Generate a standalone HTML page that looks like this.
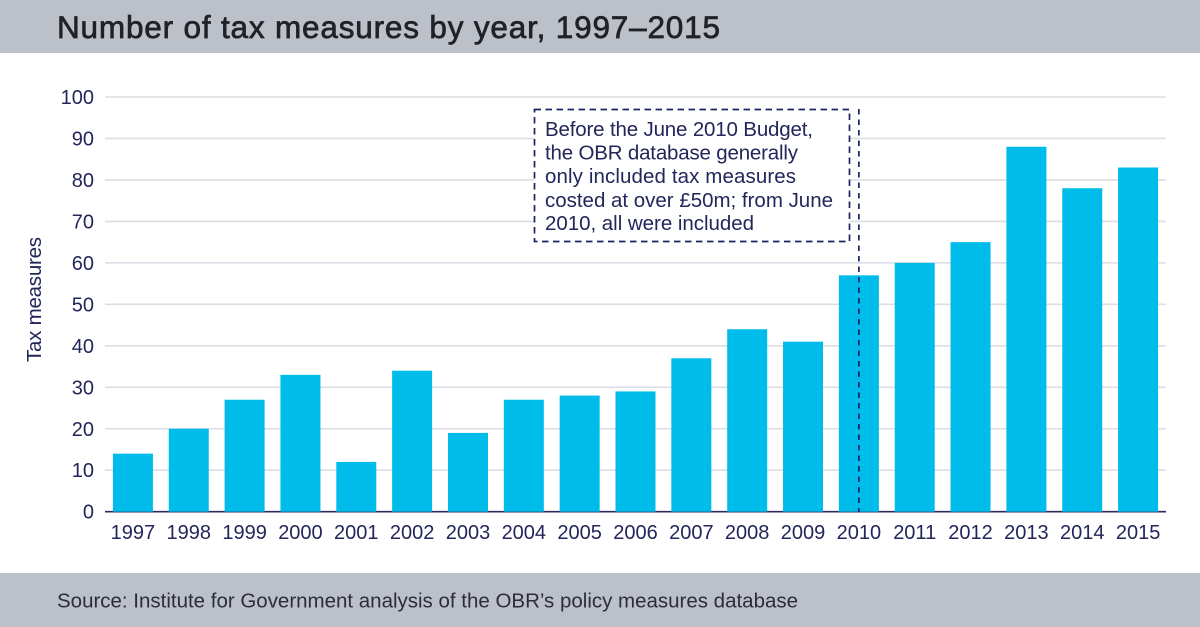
<!DOCTYPE html>
<html>
<head>
<meta charset="utf-8">
<title>Number of tax measures by year, 1997–2015</title>
<style>
html,body{margin:0;padding:0;background:#fff;width:1200px;height:627px;overflow:hidden}
svg{display:block;font-family:"Liberation Sans",sans-serif}
</style>
</head>
<body>
<svg id="chart" width="1200" height="627" viewBox="0 0 1200 627" xmlns="http://www.w3.org/2000/svg">
  <rect x="0" y="0" width="1200" height="53" fill="#bcc1c9"/>
  <text x="57" y="38" font-size="31.5" font-weight="400" stroke="#222226" stroke-width="0.7" fill="#222226" textLength="663" lengthAdjust="spacing">Number of tax measures by year, 1997–2015</text>
  <rect x="0" y="573" width="1200" height="54" fill="#bcc1c9"/>
  <text x="57" y="607.5" font-size="20.5" fill="#2b2d38" textLength="741" lengthAdjust="spacing">Source: Institute for Government analysis of the OBR’s policy measures database</text>
  <text transform="translate(41,362) rotate(-90)" font-size="20.5" fill="#23265a" textLength="125" lengthAdjust="spacing">Tax measures</text>
  <g id="grid"></g>
  <g id="yticks"></g>
  <line x1="105" x2="1166" y1="511.7" y2="511.7" stroke="#2c2a5c" stroke-width="1.6"/>
  <g id="bars"></g>
  <g id="xticks"></g>
  <line id="marker" x1="858.5" x2="858.5" y1="109" y2="512" stroke="#1a2460" stroke-width="1.7" stroke-dasharray="5.5 5"/>
  <g>
    <rect x="534.5" y="109.5" width="315" height="132" fill="#fff" stroke="#1a2460" stroke-width="1.7" stroke-dasharray="6.5 4.5"/>
    <g font-size="20.5" fill="#23265a">
      <text x="545" y="136" textLength="268" lengthAdjust="spacing">Before the June 2010 Budget,</text>
      <text x="545" y="159.5" textLength="253" lengthAdjust="spacing">the OBR database generally</text>
      <text x="545" y="183" textLength="251" lengthAdjust="spacing">only included tax measures</text>
      <text x="545" y="207" textLength="288" lengthAdjust="spacing">costed at over £50m; from June</text>
      <text x="545" y="230" textLength="209" lengthAdjust="spacing">2010, all were included</text>
    </g>
  </g>
</svg>
<script>
const categories = ["1997","1998","1999","2000","2001","2002","2003","2004","2005","2006","2007","2008","2009","2010","2011","2012","2013","2014","2015"];
const taxMeasures = [14,20,27,33,12,34,19,27,28,29,37,44,41,57,60,65,88,78,83];
const yTickLabels = [0,10,20,30,40,50,60,70,80,90,100];
const markerYear = "2010";

const NS = "http://www.w3.org/2000/svg";
const plot = {left:105, right:1166, top:97, bottom:511.7, yMax:100, barWidth:40};
function yScale(v){ return plot.bottom - (v / plot.yMax) * (plot.bottom - plot.top); }
function band(){ return (plot.right - plot.left) / categories.length; }
function xCenter(i){ return plot.left + band() * (i + 0.5); }

const gridG = document.getElementById("grid");
const yG = document.getElementById("yticks");
yTickLabels.forEach(function(t){
  if (t !== 0) {
    const line = document.createElementNS(NS, "line");
    
    
    line.setAttribute("x1", plot.left);
    line.setAttribute("x2", plot.right);
    line.setAttribute("y1", yScale(t));
    line.setAttribute("y2", yScale(t));
    line.setAttribute("stroke", "#dcdde5");
    line.setAttribute("stroke-width", "1.6");
    gridG.appendChild(line);
  }
  const label = document.createElementNS(NS, "text");
  
  
  label.setAttribute("x", 94);
  label.setAttribute("y", yScale(t) + 7);
  label.setAttribute("text-anchor", "end");
  label.setAttribute("font-size", "20");
  label.setAttribute("fill", "#23265a");
  label.textContent = t;
  yG.appendChild(label);
});

const barsG = document.getElementById("bars");
const xG = document.getElementById("xticks");
categories.forEach(function(c, i){
  const bar = document.createElementNS(NS, "rect");
  
  
  bar.setAttribute("x", xCenter(i) - plot.barWidth / 2);
  bar.setAttribute("y", yScale(taxMeasures[i]));
  bar.setAttribute("width", plot.barWidth);
  bar.setAttribute("height", plot.bottom - yScale(taxMeasures[i]));
  bar.setAttribute("fill", "#00bcea");
  barsG.appendChild(bar);

  const label = document.createElementNS(NS, "text");
  
  
  label.setAttribute("x", xCenter(i));
  label.setAttribute("y", 539);
  label.setAttribute("text-anchor", "middle");
  label.setAttribute("font-size", "20");
  label.setAttribute("fill", "#23265a");
  label.textContent = c;
  xG.appendChild(label);
});

const marker = document.getElementById("marker");
const mx = xCenter(categories.indexOf(markerYear));
marker.setAttribute("x1", mx);
marker.setAttribute("x2", mx);
</script>
</body>
</html>
